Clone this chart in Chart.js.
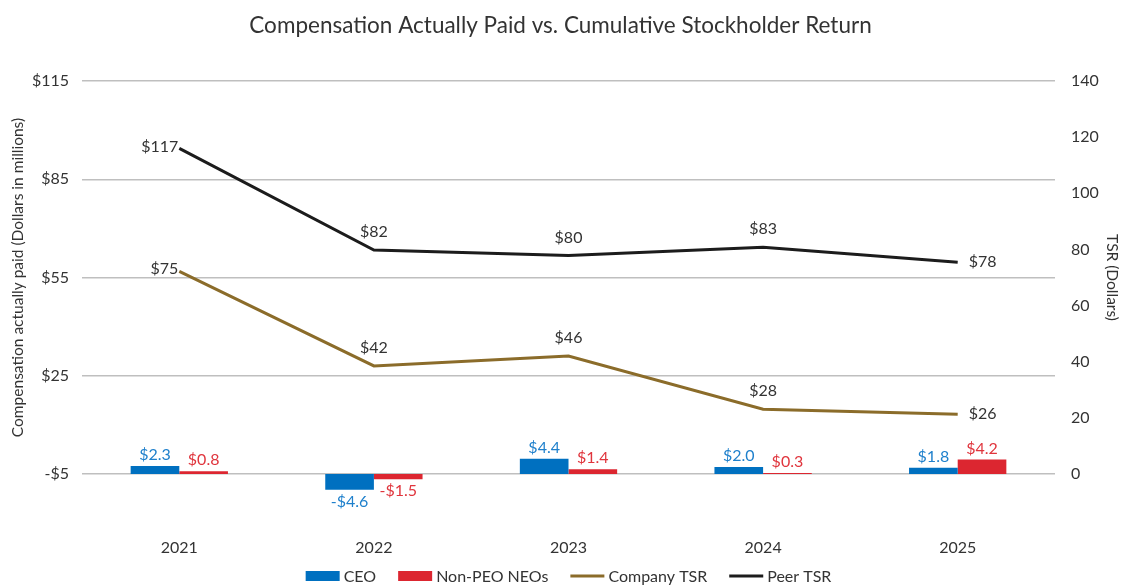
<!DOCTYPE html>
<html lang="en">
<head>
    <meta charset="UTF-8" />
    <title>Compensation Actually Paid vs. Cumulative Stockholder Return</title>
    <style>
        html, body { margin: 0; padding: 0; background: #fff; }
        #wrap { width: 1121px; height: 586px; }
    </style>
</head>
<body>
    <div id="wrap"><canvas id="myChart" width="1121" height="586"></canvas></div>

    <script src="https://cdn.jsdelivr.net/npm/chart.js@4/dist/chart.umd.min.js"></script>
    <script>
        // Data
        const years = ["2021", "2022", "2023", "2024", "2025"];
        const ceoPay = [2.3, -4.6, 4.4, 2.0, 1.8];
        const neoPay = [0.8, -1.5, 1.4, 0.3, 4.2];
        // plotted positions of the TSR lines (right axis)
        const companyTsr = [72.2, 38.5, 42, 23.1, 21.3];
        const peerTsr = [116, 79.8, 77.8, 80.8, 75.4];
        // printed labels of the TSR lines
        const companyTsrLabels = ["$75", "$42", "$46", "$28", "$26"];
        const peerTsrLabels = ["$117", "$82", "$80", "$83", "$78"];
        const leftTicks = [-5, 25, 55, 85, 115];
        const legendOrder = ["CEO", "Non-PEO NEOs", "Company TSR", "Peer TSR"];

        const FONT = "Lato, 'Open Sans', sans-serif";
        const TEXT = "#333333";

        // Function to format money labels
        function money(v) {
            return (v < 0 ? "-$" : "$") + Math.abs(v).toFixed(1);
        }

        // Plugin: draw value labels on bars and lines
        const valueLabels = {
            id: "valueLabels",
            afterDatasetsDraw(chart) {
                const ctx = chart.ctx;
                ctx.save();
                ctx.font = "16px " + FONT;
                chart.data.datasets.forEach((ds, di) => {
                    const meta = chart.getDatasetMeta(di);
                    meta.data.forEach((el, i) => {
                        if (ds.type === "bar") {
                            const v = ds.data[i];
                            ctx.fillStyle = ds.labelColor;
                            ctx.textAlign = "center";
                            ctx.textBaseline = "middle";
                            const y = v >= 0 ? el.y - 11 : el.y + 12;
                            ctx.fillText(money(v), el.x, y);
                        } else {
                            const txt = ds.valueLabels[i];
                            ctx.fillStyle = TEXT;
                            ctx.textBaseline = "middle";
                            if (i === 0) {
                                ctx.textAlign = "right";
                                ctx.fillText(txt, el.x - 1, el.y - 2);
                            } else if (i === meta.data.length - 1) {
                                ctx.textAlign = "left";
                                ctx.fillText(txt, el.x + 11, el.y);
                            } else {
                                ctx.textAlign = "center";
                                ctx.fillText(txt, el.x, el.y - 18);
                            }
                        }
                    });
                });
                ctx.restore();
            }
        };

        // Plugin: legend drawn at the bottom, centred under the plot
        const bottomLegend = {
            id: "bottomLegend",
            afterDraw(chart) {
                const ctx = chart.ctx;
                const area = chart.chartArea;
                const markW = 34, gapText = 4, gapItem = 22, y = 576;
                ctx.save();
                ctx.font = "16px " + FONT;
                const items = legendOrder.map(name => {
                    const ds = chart.data.datasets.find(d => d.label === name);
                    return { ds, w: markW + gapText + ctx.measureText(name).width };
                });
                const total = items.reduce((s, it) => s + it.w, 0) + gapItem * (items.length - 1);
                let x = (area.left + area.right) / 2 - total / 2;
                items.forEach(it => {
                    if (it.ds.type === "bar") {
                        ctx.fillStyle = it.ds.backgroundColor;
                        ctx.fillRect(x, y - 5, markW, 10);
                    } else {
                        ctx.fillStyle = it.ds.borderColor;
                        ctx.fillRect(x, y - 1.5, markW, 3);
                    }
                    ctx.fillStyle = TEXT;
                    ctx.textAlign = "left";
                    ctx.textBaseline = "middle";
                    ctx.fillText(it.ds.label, x + markW + gapText, y + 1);
                    x += it.w + gapItem;
                });
                ctx.restore();
            }
        };

        new Chart(document.getElementById("myChart"), {
            data: {
                labels: years,
                datasets: [
                    {
                        type: "bar",
                        label: "CEO",
                        data: ceoPay,
                        yAxisID: "yb",
                        backgroundColor: "#0070C0",
                        labelColor: "#1F80CC",
                        clip: false,
                        barPercentage: 1,
                        categoryPercentage: 0.5,
                        order: 2
                    },
                    {
                        type: "bar",
                        label: "Non-PEO NEOs",
                        data: neoPay,
                        yAxisID: "yb",
                        backgroundColor: "#DC2630",
                        labelColor: "#E0353D",
                        clip: false,
                        barPercentage: 1,
                        categoryPercentage: 0.5,
                        order: 3
                    },
                    {
                        type: "line",
                        label: "Company TSR",
                        data: companyTsr,
                        valueLabels: companyTsrLabels,
                        yAxisID: "y1",
                        borderColor: "#8B6C2A",
                        backgroundColor: "#8B6C2A",
                        borderWidth: 3,
                        pointRadius: 0,
                        tension: 0,
                        order: 1
                    },
                    {
                        type: "line",
                        label: "Peer TSR",
                        data: peerTsr,
                        valueLabels: peerTsrLabels,
                        yAxisID: "y1",
                        borderColor: "#1C1C1C",
                        backgroundColor: "#1C1C1C",
                        borderWidth: 3,
                        pointRadius: 0,
                        tension: 0,
                        order: 0
                    }
                ]
            },
            options: {
                responsive: false,
                animation: false,
                layout: { padding: { top: 1, bottom: 26, left: 0, right: 0 } },
                scales: {
                    x: {
                        grid: { display: false, drawTicks: false },
                        border: { display: false },
                        ticks: { color: TEXT, font: { family: FONT, size: 16 }, padding: 64 },
                        afterFit: (scale) => { scale.height = 86; }
                    },
                    y: {
                        position: "left",
                        min: -5,
                        max: 115,
                        afterBuildTicks: (scale) => { scale.ticks = leftTicks.map(v => ({ value: v })); },
                        grid: { color: "#BFBFBF", lineWidth: 1.5, drawTicks: false },
                        border: { display: false },
                        ticks: {
                            color: TEXT,
                            font: { family: FONT, size: 16 },
                            padding: 13,
                            callback: (v) => (v < 0 ? "-$" : "$") + Math.abs(v)
                        },
                        title: {
                            display: true,
                            text: "Compensation actually paid (Dollars in millions)",
                            color: TEXT,
                            font: { family: FONT, size: 15.5 },
                            padding: { top: 9, bottom: 0 }
                        },
                        afterFit: (scale) => { scale.width = 82; }
                    },
                    y1: {
                        position: "right",
                        min: 0,
                        max: 140,
                        ticks: { stepSize: 20, color: TEXT, font: { family: FONT, size: 16 }, padding: 16 },
                        grid: { display: false, drawTicks: false },
                        border: { display: false },
                        title: {
                            display: true,
                            text: "TSR (Dollars)",
                            color: TEXT,
                            font: { family: FONT, size: 15.5 },
                            padding: { top: 0, bottom: 0 }
                        },
                        afterFit: (scale) => { scale.width = 66; }
                    },
                    yb: {
                        display: false,
                        min: 0,
                        max: 114
                    }
                },
                plugins: {
                    title: {
                        display: true,
                        text: "Compensation Actually Paid vs. Cumulative Stockholder Return",
                        color: TEXT,
                        font: { family: FONT, size: 22.5, weight: "normal" },
                        padding: { top: 11, bottom: 42 }
                    },
                    legend: { display: false },
                    tooltip: { enabled: false }
                }
            },
            plugins: [valueLabels, bottomLegend]
        });
    </script>
</body>
</html>
